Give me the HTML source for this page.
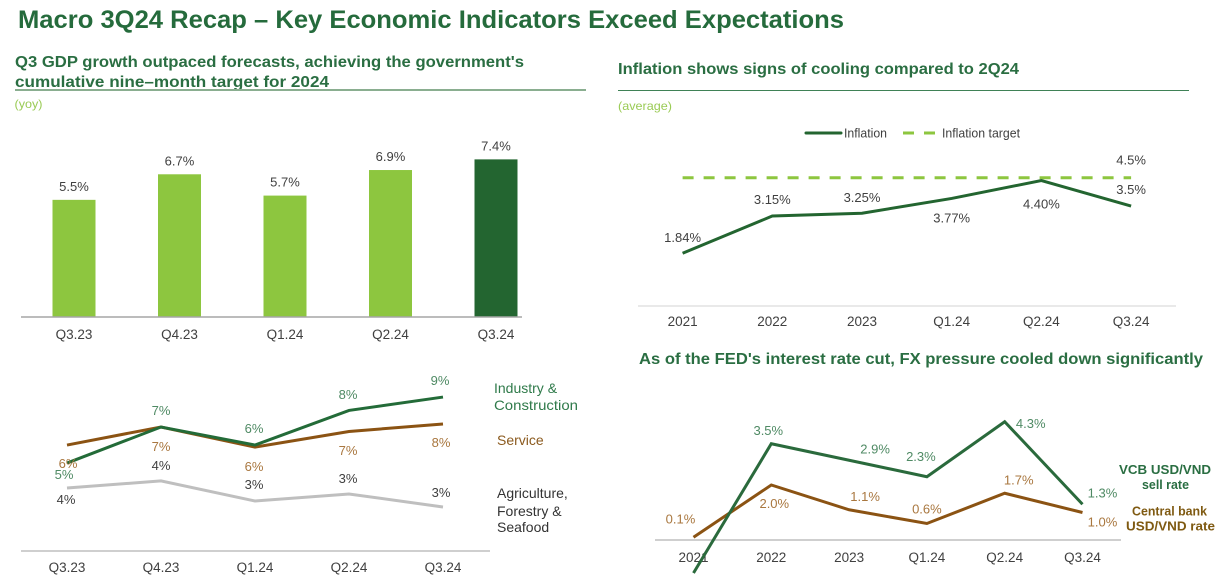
<!DOCTYPE html>
<html lang="en">
<head>
<meta charset="utf-8">
<title>Macro 3Q24 Recap</title>
<style>
html,body{margin:0;padding:0;background:#fff;width:1226px;height:587px;overflow:hidden}
svg{display:block;font-family:"Liberation Sans","DejaVu Sans",sans-serif}
.h2{font-size:16px;font-weight:bold;fill:#2a6e42}
.note{font-size:12px;fill:#9acb55}
.leg{font-size:12.5px;fill:#404040}
</style>
</head>
<body>
<svg id="page" width="1226" height="587" viewBox="0 0 1226 587" xmlns="http://www.w3.org/2000/svg">
  <text x="18" y="28" font-size="25" font-weight="bold" fill="#256b3c" textLength="826" lengthAdjust="spacingAndGlyphs">Macro 3Q24 Recap – Key Economic Indicators Exceed Expectations</text>

  <text class="h2" x="15" y="67" textLength="509" lengthAdjust="spacingAndGlyphs">Q3 GDP growth outpaced forecasts, achieving the government's</text>
  <text class="h2" x="15" y="87" textLength="314" lengthAdjust="spacingAndGlyphs">cumulative nine–month target for 2024</text>
  <line x1="15" x2="586" y1="90" y2="90" stroke="#8aae90" stroke-width="2"/>
  <text class="note" x="14.500" y="108" textLength="28" lengthAdjust="spacingAndGlyphs">(yoy)</text>

  <text class="h2" x="618" y="74" textLength="401" lengthAdjust="spacingAndGlyphs">Inflation shows signs of cooling compared to 2Q24</text>
  <line x1="618" x2="1189" y1="90.5" y2="90.5" stroke="#3f8156" stroke-width="1"/>
  <text class="note" x="618" y="110" textLength="54" lengthAdjust="spacingAndGlyphs">(average)</text>

  <g>
    <line x1="806" x2="841" y1="133" y2="133" stroke="#236530" stroke-width="3" stroke-linecap="round"/>
    <text class="leg" x="844" y="137.500" textLength="43" lengthAdjust="spacingAndGlyphs">Inflation</text>
    <line x1="903" x2="937" y1="133" y2="133" stroke="#8dc63f" stroke-width="3" stroke-dasharray="11 10"/>
    <text class="leg" x="942" y="137.500" textLength="78" lengthAdjust="spacingAndGlyphs">Inflation target</text>
  </g>

  <text class="h2" x="639" y="364" textLength="564" lengthAdjust="spacingAndGlyphs">As of the FED's interest rate cut, FX pressure cooled down significantly</text>

  <g font-size="14">
    <text fill="#2f7a4a" x="494" y="393">Industry &amp;</text>
    <text fill="#2f7a4a" x="494" y="410" textLength="84" lengthAdjust="spacingAndGlyphs">Construction</text>
    <text fill="#8b5a1e" x="497" y="445">Service</text>
    <text fill="#333" x="497" y="498">Agriculture,</text>
    <text fill="#333" x="497" y="516">Forestry &amp;</text>
    <text fill="#333" x="497" y="532">Seafood</text>
  </g>

  <g font-size="12.5" font-weight="bold">
    <text fill="#2a6e42" x="1119" y="474" textLength="92" lengthAdjust="spacingAndGlyphs">VCB USD/VND</text>
    <text fill="#2a6e42" x="1142" y="489" textLength="47" lengthAdjust="spacingAndGlyphs">sell rate</text>
    <text fill="#7f5a12" x="1132" y="515.500" textLength="75" lengthAdjust="spacingAndGlyphs">Central bank</text>
    <text fill="#7f5a12" x="1126" y="530.500" textLength="89" lengthAdjust="spacingAndGlyphs">USD/VND rate</text>
  </g>

  <g id="charts"></g>
</svg>
<script>
const quarterCats = ["Q3.23", "Q4.23", "Q1.24", "Q2.24", "Q3.24"];
const gdpValues = [5.5, 6.7, 5.7, 6.9, 7.4];
const gdpLabels = ["5.5%", "6.7%", "5.7%", "6.9%", "7.4%"];

const industryValues = [5.56, 7.5, 6.53, 8.39, 9.11];
const serviceValues = [6.53, 7.5, 6.42, 7.26, 7.66];
const agricultureValues = [4.22, 4.6, 3.52, 3.9, 3.2];
const industryLabels = ["5%", "7%", "6%", "8%", "9%"];
const serviceLabels = ["6%", "7%", "6%", "7%", "8%"];
const agricultureLabels = ["4%", "4%", "3%", "3%", "3%"];

const yearCats = ["2021", "2022", "2023", "Q1.24", "Q2.24", "Q3.24"];
const inflationValues = [1.84, 3.15, 3.25, 3.77, 4.40, 3.5];
const inflationLabels = ["1.84%", "3.15%", "3.25%", "3.77%", "4.40%", "3.5%"];
const inflationTarget = [4.5, 4.5, 4.5, 4.5, 4.5, 4.5];
const inflationTargetLabel = "4.5%";

const vcbValues = [-1.2, 3.5, 2.9, 2.3, 4.3, 1.3];
const vcbLabels = ["-1.2%", "3.5%", "2.9%", "2.3%", "4.3%", "1.3%"];
const centralValues = [0.1, 2.0, 1.1, 0.6, 1.7, 1.0];
const centralLabels = ["0.1%", "2.0%", "1.1%", "0.6%", "1.7%", "1.0%"];

const NS = "http://www.w3.org/2000/svg";
const root = document.getElementById("charts");

function scaleBand(first, step) { return function (i) { return first + step * i; }; }
function scaleY(zeroY, perUnit) { return function (v) { return zeroY - perUnit * v; }; }

function addText(parent, name, str, x, y, fill, size) {
  const el = document.createElementNS(NS, "text");
  
  
  el.setAttribute("x", x);
  el.setAttribute("y", y);
  el.setAttribute("fill", fill);
  el.setAttribute("font-size", size);
  el.setAttribute("text-anchor", "middle");
  el.textContent = str;
  parent.appendChild(el);
  return el;
}

function addGroup(name) {
  const g = document.createElementNS(NS, "g");
  
  
  root.appendChild(g);
  return g;
}

function addAxis(parent, name, x1, x2, y, color, width, cats, xFn, tickY) {
  const line = document.createElementNS(NS, "line");
  
  
  line.setAttribute("x1", x1);
  line.setAttribute("x2", x2);
  line.setAttribute("y1", y);
  line.setAttribute("y2", y);
  line.setAttribute("stroke", color);
  line.setAttribute("stroke-width", width);
  parent.appendChild(line);
  cats.forEach(function (c, i) {
    addText(parent, name + "-tick-" + c.toLowerCase().replace(".", "-"), c, xFn(i), tickY, "#404040", 13.5);
  });
}

function addLine(parent, name, values, xFn, yFn, color, width, dash) {
  const p = document.createElementNS(NS, "polyline");
  
  
  p.setAttribute("points", values.map(function (v, i) { return xFn(i) + "," + yFn(v); }).join(" "));
  p.setAttribute("fill", "none");
  p.setAttribute("stroke", color);
  p.setAttribute("stroke-width", width);
  p.setAttribute("stroke-linejoin", "miter");
  if (dash) p.setAttribute("stroke-dasharray", dash);
  parent.appendChild(p);
}

function addLabels(parent, name, values, labels, xFn, yFn, color, nudges) {
  values.forEach(function (v, i) {
    addText(parent, name + "-label-" + i, labels[i], xFn(i) + nudges[i][0], yFn(v) + nudges[i][1], color, 13);
  });
}

/* GDP bars */
(function () {
  const g = addGroup("gdp-bar-chart");
  const x = scaleBand(74, 105.5);
  const y = scaleY(317, 21.3);
  gdpValues.forEach(function (v, i) {
    const r = document.createElementNS(NS, "rect");
    
    
    r.setAttribute("x", x(i) - 21.5);
    r.setAttribute("y", y(v));
    r.setAttribute("width", 43);
    r.setAttribute("height", 317 - y(v));
    r.setAttribute("fill", i === gdpValues.length - 1 ? "#236530" : "#8dc63f");
    g.appendChild(r);
    addText(g, "bar-value-" + i, gdpLabels[i], x(i), y(v) - 9, "#404040", 13);
  });
  addAxis(g, "gdp", 21, 522, 317, "#a6a6a6", 1.5, quarterCats, x, 339);
})();

/* Sector lines */
(function () {
  const g = addGroup("sector-line-chart");
  const x = scaleBand(67, 94);
  const y = scaleY(566.5, 18.6);
  addAxis(g, "sector", 21, 490, 551, "#bfbfbf", 1.5, quarterCats, x, 572);
  addLine(g, "agriculture-line", agricultureValues, x, y, "#bfbfbf", 3);
  addLine(g, "service-line", serviceValues, x, y, "#8b5313", 3);
  addLine(g, "industry-line", industryValues, x, y, "#236b38", 3);
  addLabels(g, "service", serviceValues, serviceLabels, x, y, "#a9773f",
    [[1, 23], [0, 24], [-1, 24], [-1, 23.5], [-2, 23]]);
  addLabels(g, "industry", industryValues, industryLabels, x, y, "#4f8a64",
    [[-3, 16], [0, -12], [-1, -12], [-1, -11.5], [-3, -12]]);
  addLabels(g, "agriculture", agricultureValues, agricultureLabels, x, y, "#404040",
    [[-1, 16], [0, -11], [-1, -12], [-1, -11], [-2, -10]]);
})();

/* Inflation */
(function () {
  const g = addGroup("inflation-line-chart");
  const x = scaleBand(682.6, 89.7);
  const y = scaleY(305.5, 28.4);
  addAxis(g, "inflation", 638, 1176, 306, "#e2e2e2", 1.5, yearCats, x, 326);
  addLine(g, "inflation-target-line", inflationTarget, x, y, "#8dc63f", 3, "11 10");
  addLine(g, "inflation-line", inflationValues, x, y, "#236530", 3);
  addLabels(g, "inflation", inflationValues, inflationLabels, x, y, "#404040",
    [[0, -11], [0, -12], [0, -11], [0, 24], [0, 28], [0, -12]]);
  addText(g, "inflation-target-value", inflationTargetLabel, x(5), y(inflationTarget[5]) - 13, "#404040", 13);
})();

/* FX */
(function () {
  const g = addGroup("fx-line-chart");
  const x = scaleBand(693.5, 77.8);
  const y = scaleY(540, 27.5);
  addAxis(g, "fx", 655, 1121, 540, "#bfbfbf", 1.5, yearCats, x, 562);
  addLine(g, "central-bank-line", centralValues, x, y, "#8b5313", 3);
  addLine(g, "vcb-line", vcbValues, x, y, "#2a6a3c", 3);
  addLabels(g, "vcb", vcbValues, vcbLabels, x, y, "#4f8a64",
    [[8, 24], [-3, -9], [26, -7], [-6, -16], [26, 6], [20, -7]]);
  addLabels(g, "central", centralValues, centralLabels, x, y, "#a9773f",
    [[-13, -14], [3, 23], [16, -9], [0, -10], [14, -9], [20, 14]]);
})();
</script>
</body>
</html>
